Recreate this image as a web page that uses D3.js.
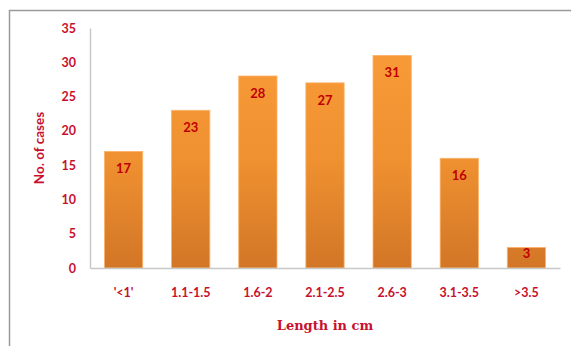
<!DOCTYPE html>
<html>
<head>
<meta charset="utf-8">
<script src="https://cdn.jsdelivr.net/npm/d3@7"></script>
<style>
  html, body { margin: 0; padding: 0; background: #fff; }
  svg { display: block; }
</style>
</head>
<body>
<svg id="chart" width="571" height="346"></svg>
<script>
const categories = ["'<1'", "1.1-1.5", "1.6-2", "2.1-2.5", "2.6-3", "3.1-3.5", ">3.5"];
const cases = [17, 23, 28, 27, 31, 16, 3];
const yTicks = [0, 5, 10, 15, 20, 25, 30, 35];
const xTitle = "Length in cm";
const yTitle = "No. of cases";

const svg = d3.select("#chart");
const red = "#c8102e";
const labelRed = "#c00000";

// outer frame
svg.append("rect")
  .attr("x", 9.5).attr("y", 10.5)
  .attr("width", 580).attr("height", 360)
  .attr("fill", "none").attr("stroke", "#9a9a9a").attr("stroke-width", 1.5);

const plotLeft = 90, plotRight = 560, plotTop = 28, plotBottom = 268;

const x = d3.scaleBand().domain(categories).range([plotLeft, plotRight]).paddingInner(0.43).paddingOuter(0.215);
const y = d3.scaleLinear().domain([0, 35]).range([plotBottom, plotTop]);

const defs = svg.append("defs");
const grad = defs.append("linearGradient").attr("id", "barGrad")
  .attr("gradientUnits", "userSpaceOnUse")
  .attr("x1", 0).attr("y1", plotTop).attr("x2", 0).attr("y2", plotBottom);
grad.append("stop").attr("offset", "0%").attr("stop-color", "#fb9c3a");
grad.append("stop").attr("offset", "55%").attr("stop-color", "#ef9130");
grad.append("stop").attr("offset", "100%").attr("stop-color", "#d27627");

// bars
svg.append("g").selectAll("rect").data(cases).join("rect")
  .attr("x", (d, i) => x(categories[i]))
  .attr("y", d => y(d))
  .attr("width", x.bandwidth())
  .attr("height", d => y(0) - y(d))
  .attr("fill", "url(#barGrad)")
  .attr("stroke", "#fbb36a").attr("stroke-width", 0.8);

// y axis
const yAxis = svg.append("g").attr("transform", `translate(${plotLeft},0)`)
  .call(d3.axisLeft(y).tickValues(yTicks).tickSize(0).tickPadding(14));
yAxis.select(".domain").attr("stroke", "#c8c8c8").attr("stroke-width", 1.5);
yAxis.selectAll("text")
  .attr("fill", red).attr("font-family", "Lato, 'Open Sans', sans-serif")
  .attr("font-weight", "bold").attr("font-size", 12.5);

// x axis
const xAxis = svg.append("g").attr("transform", `translate(0,${plotBottom})`)
  .call(d3.axisBottom(x).tickSize(0).tickPadding(20));
xAxis.select(".domain").attr("stroke", "#c8c8c8").attr("stroke-width", 1.5);
xAxis.selectAll("text")
  .attr("fill", red).attr("font-family", "Lato, 'Open Sans', sans-serif")
  .attr("font-weight", "bold").attr("font-size", 12.5);

// value labels (inside end)
svg.append("g").selectAll("text").data(cases).join("text")
  .attr("x", (d, i) => x(categories[i]) + x.bandwidth() / 2)
  .attr("y", d => y(d) + Math.min(22, (y(0) - y(d)) / 2))
  .attr("text-anchor", "middle")
  .attr("fill", labelRed)
  .attr("font-family", "Lato, 'Open Sans', sans-serif")
  .attr("font-weight", "bold").attr("font-size", 13)
  .text(d => d);

// axis titles
svg.append("text")
  .attr("transform", `translate(44,${(plotTop + plotBottom) / 2}) rotate(-90)`)
  .attr("text-anchor", "middle")
  .attr("fill", red)
  .attr("font-family", "Lato, 'Open Sans', sans-serif")
  .attr("font-weight", "bold").attr("font-size", 13.5)
  .text(yTitle);

svg.append("text")
  .attr("x", 325).attr("y", 330)
  .attr("text-anchor", "middle")
  .attr("fill", red)
  .attr("font-family", "'DejaVu Serif', 'Liberation Serif', serif")
  .attr("font-weight", "bold").attr("font-size", 13)
  .text(xTitle);
</script>
</body>
</html>
